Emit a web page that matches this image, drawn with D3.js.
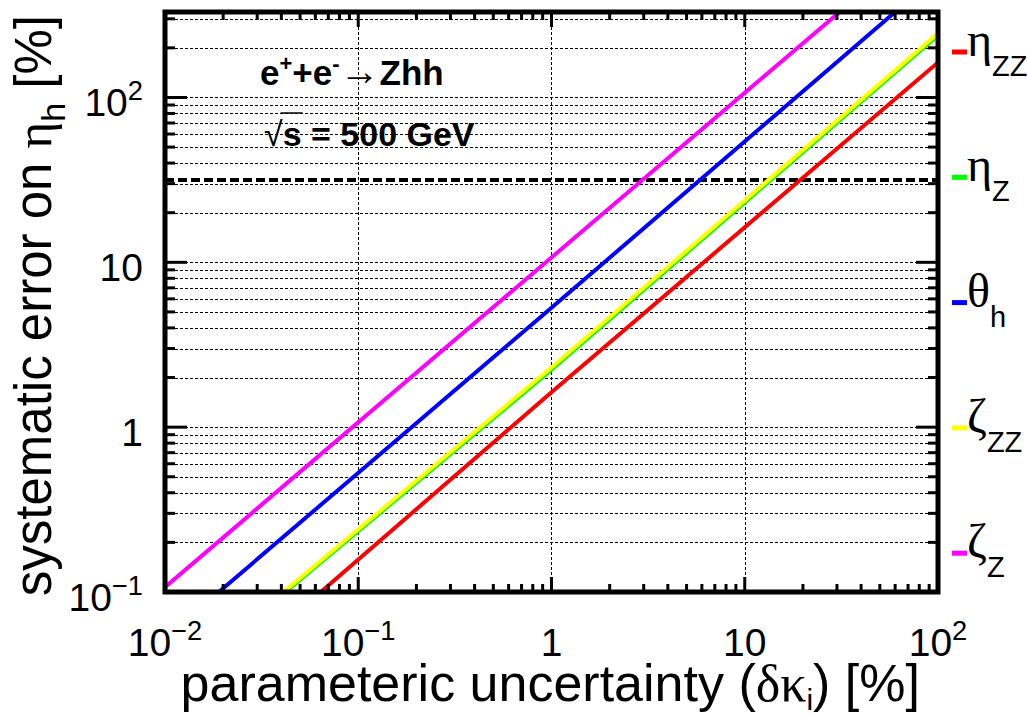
<!DOCTYPE html>
<html>
<head>
<meta charset="utf-8">
<script src="https://cdn.jsdelivr.net/npm/d3@7"></script>
<style>
  body { margin: 0; background: #fff; }
  svg { display: block; font-family: "Liberation Sans", Arial, sans-serif; }
</style>
</head>
<body>
<script>
// axis ranges and tick labels
const xDomain = [0.01, 100];
const yDomain = [0.1, 330];
const xMajor = [0.01, 0.1, 1, 10, 100];
const xTickLabels = [["10", "−2"], ["10", "−1"], ["1", ""], ["10", ""], ["10", "2"]];
const yMajor = [0.1, 1, 10, 100];
const yTickLabels = [["10", "−1"], ["1", ""], ["10", ""], ["10", "2"]];

// series (drawn in this order)
const legendSymbols = ["η", "η", "θ", "ζ", "ζ"];
const legendSubs = ["ZZ", "Z", "h", "ZZ", "Z"];
const seriesColors = ["#ff0000", "#00ff00", "#0000ff", "#ffff00", "#ff00ff"];
const seriesX = [
    [0.064, 1, 100],
    [0.042, 1, 100],
    [0.019, 1, 60],
    [0.041, 1, 100],
    [0.01, 1, 31],
];
const seriesY = [
    [0.1, 1.63, 163],
    [0.1, 2.23, 238],
    [0.1, 5.3, 330],
    [0.1, 2.3, 245],
    [0.107, 10.7, 330],
];
const limitValue = 31.6;

const width = 1027, height = 716;
const plot = { left: 165, right: 938, top: 12, bottom: 592 };

const svg = d3.select("body").append("svg")
    .attr("width", width)
    .attr("height", height);

const x = d3.scaleLog().domain(xDomain).range([plot.left, plot.right]);
const y = d3.scaleLog().domain(yDomain).range([plot.bottom, plot.top]);

svg.append("defs").append("clipPath").attr("id", "plotclip")
    .append("rect")
    .attr("x", plot.left).attr("y", plot.top)
    .attr("width", plot.right - plot.left)
    .attr("height", plot.bottom - plot.top);

// grid: all y ticks, only major x ticks
const yAll = y.ticks().filter((v) => v > yDomain[0] && v < yDomain[1]);
const xAll = x.ticks().filter((v) => v > xDomain[0] && v < xDomain[1]);
const isMajor = (v) => Math.abs(Math.log10(v) - Math.round(Math.log10(v))) < 1e-6;

const grid = svg.append("g")
    .attr("stroke", "#000")
    .attr("stroke-width", 1)
    .attr("stroke-dasharray", "3,2");
grid.selectAll("line.gy").data(yAll).join("line")
    .attr("class", "gy")
    .attr("x1", plot.left).attr("x2", plot.right)
    .attr("y1", (d) => Math.round(y(d)) + 0.5)
    .attr("y2", (d) => Math.round(y(d)) + 0.5);
grid.selectAll("line.gx").data(xAll.filter(isMajor)).join("line")
    .attr("class", "gx")
    .attr("y1", plot.top).attr("y2", plot.bottom)
    .attr("x1", (d) => Math.round(x(d)) + 0.5)
    .attr("x2", (d) => Math.round(x(d)) + 0.5);

// horizontal limit line
svg.append("line")
    .attr("x1", plot.left).attr("x2", plot.right)
    .attr("y1", y(limitValue)).attr("y2", y(limitValue))
    .attr("stroke", "#000")
    .attr("stroke-width", 4)
    .attr("stroke-dasharray", "9,4");

// series lines
const line = d3.line().x((d) => x(d[0])).y((d) => y(d[1]));
const lines = svg.append("g").attr("clip-path", "url(#plotclip)");
seriesX.forEach((xs, i) => {
    lines.append("path")
        .datum(xs.map((v, j) => [v, seriesY[i][j]]))
        .attr("d", line)
        .attr("fill", "none")
        .attr("stroke", seriesColors[i])
        .attr("stroke-width", 4);
});

// ticks on all four sides, pointing inward
const ticks = svg.append("g").attr("stroke", "#000").attr("stroke-width", 3);
ticks.selectAll("line.tb").data(xAll).join("line")
    .attr("class", "tb")
    .attr("x1", (d) => x(d)).attr("x2", (d) => x(d))
    .attr("y1", plot.bottom)
    .attr("y2", (d) => plot.bottom - (isMajor(d) ? 15 : 8));
ticks.selectAll("line.tt").data(xAll).join("line")
    .attr("class", "tt")
    .attr("x1", (d) => x(d)).attr("x2", (d) => x(d))
    .attr("y1", plot.top)
    .attr("y2", (d) => plot.top + (isMajor(d) ? 15 : 8));
ticks.selectAll("line.tl").data(yAll).join("line")
    .attr("class", "tl")
    .attr("y1", (d) => y(d)).attr("y2", (d) => y(d))
    .attr("x1", plot.left)
    .attr("x2", (d) => plot.left + (isMajor(d) ? 22 : 10));
ticks.selectAll("line.tr").data(yAll).join("line")
    .attr("class", "tr")
    .attr("y1", (d) => y(d)).attr("y2", (d) => y(d))
    .attr("x1", plot.right)
    .attr("x2", (d) => plot.right - (isMajor(d) ? 22 : 10));

// frame
svg.append("rect")
    .attr("x", plot.left).attr("y", plot.top)
    .attr("width", plot.right - plot.left)
    .attr("height", plot.bottom - plot.top)
    .attr("fill", "none")
    .attr("stroke", "#000")
    .attr("stroke-width", 5);

function powerLabel(sel, base, sup, size) {
    sel.append("tspan").text(base);
    if (sup) {
        sel.append("tspan")
            .attr("dy", -size * 0.42)
            .attr("font-size", size * 0.7)
            .text(sup);
    }
}

// x tick labels
xMajor.forEach((v, i) => {
    const t = svg.append("text")
        .attr("x", x(v))
        .attr("y", 656)
        .attr("font-size", 39)
        .attr("text-anchor", "middle");
    powerLabel(t, xTickLabels[i][0], xTickLabels[i][1], 39);
});

// y tick labels
yMajor.forEach((v, i) => {
    const t = svg.append("text")
        .attr("x", 143)
        .attr("y", y(v) + 19)
        .attr("font-size", 39)
        .attr("text-anchor", "end");
    powerLabel(t, yTickLabels[i][0], yTickLabels[i][1], 39);
});

// axis titles
const xt = svg.append("text")
    .attr("x", 920).attr("y", 701)
    .attr("font-size", 52)
    .attr("text-anchor", "end");
xt.append("tspan").text("parameteric uncertainty (");
xt.append("tspan").attr("font-family", "Liberation Serif").text("δκ");
xt.append("tspan").attr("font-size", 30).attr("dy", 9).text("i");
xt.append("tspan").attr("dy", -9).text(") [%]");

const yt = svg.append("text")
    .attr("transform", "translate(51,15) rotate(-90)")
    .attr("font-size", 51)
    .attr("text-anchor", "end");
yt.append("tspan").text("systematic error on ");
yt.append("tspan").attr("font-family", "Liberation Serif").text("η");
yt.append("tspan").attr("font-size", 34).attr("dy", 14).text("h");
yt.append("tspan").attr("dy", -14).text(" [%]");

// process label
const p1 = svg.append("text")
    .attr("x", 260).attr("y", 85)
    .attr("font-size", 35)
    .attr("font-weight", "bold");
p1.append("tspan").text("e");
p1.append("tspan").attr("font-size", 22).attr("dy", -14).text("+");
p1.append("tspan").attr("dy", 14).text("+e");
p1.append("tspan").attr("font-size", 22).attr("dy", -14).text("-");
p1.append("tspan").attr("dy", 14).attr("font-weight", "normal").attr("font-size", 40).text("→");
p1.append("tspan").text("Zhh");

const p2 = svg.append("text")
    .attr("x", 264).attr("y", 146)
    .attr("font-size", 34)
    .attr("font-weight", "bold");
p2.append("tspan").attr("font-weight", "normal").text("√");
p2.append("tspan").text("s = 500 GeV");
const rootW = p2.node().getSubStringLength(0, 1);
const sW = p2.node().getSubStringLength(1, 1);
svg.append("line")
    .attr("x1", 264 + rootW - 2).attr("x2", 264 + rootW + sW + 1)
    .attr("y1", 113).attr("y2", 113)
    .attr("stroke", "#000").attr("stroke-width", 1.5);

// legend on the right
const legend = svg.append("g");
legendSymbols.forEach((s, i) => {
    const ly = 52 + i * 125.3;
    legend.append("line")
        .attr("x1", 952).attr("x2", 967)
        .attr("y1", ly).attr("y2", ly)
        .attr("stroke", seriesColors[i])
        .attr("stroke-width", 5);
    const t = legend.append("text")
        .attr("x", 967).attr("y", ly + 4)
        .attr("font-size", 48);
    t.append("tspan").attr("font-family", "Liberation Serif").text(s);
    t.append("tspan").attr("font-size", 29).attr("dy", 20).text(legendSubs[i]);
});
</script>
</body>
</html>
